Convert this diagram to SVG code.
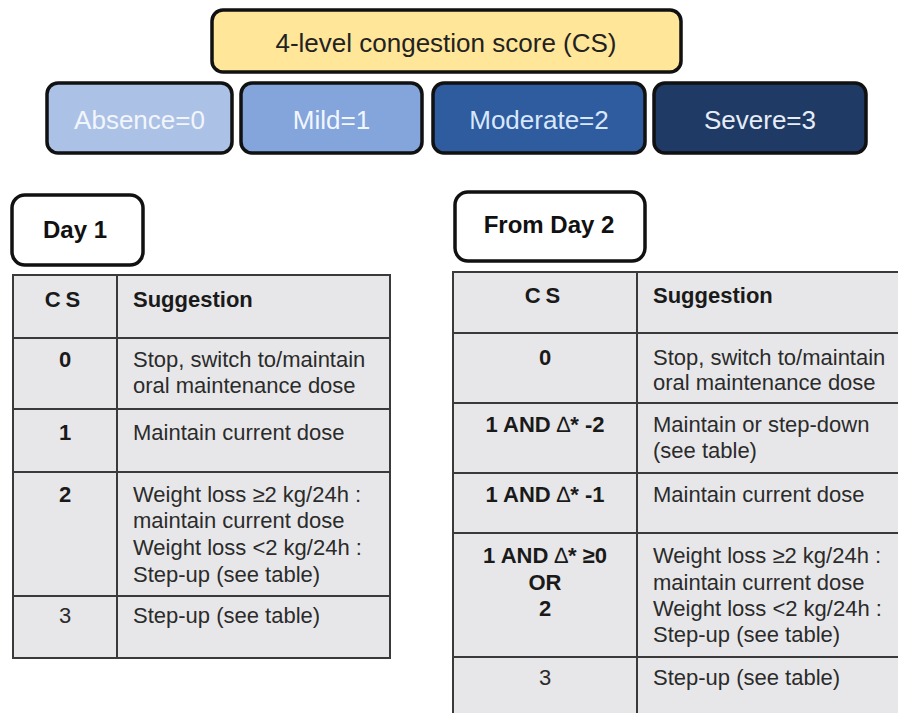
<svg xmlns="http://www.w3.org/2000/svg" width="898" height="713" viewBox="0 0 898 713">
<style>
.box{stroke:#111;stroke-width:3.5}
.t{font-family:"Liberation Sans",Arial,sans-serif}
.lvl{font-family:"Liberation Sans",Arial,sans-serif;font-size:26px;text-anchor:middle}
.tab{fill:#E7E7E9}
.ln{stroke:#3a3a3a;stroke-width:2;fill:none}
.b{font-family:"Liberation Sans",Arial,sans-serif;font-size:22px;font-weight:bold;fill:#1a1a1a}
.r{font-family:"Liberation Sans",Arial,sans-serif;font-size:22px;fill:#2b2b2b}
.c{text-anchor:middle}
.lab{font-family:"Liberation Sans",Arial,sans-serif;font-size:24px;font-weight:bold;fill:#111;text-anchor:middle}
</style>
<rect width="898" height="713" fill="#fff"/>
<g id="title">
<rect class="box" x="212" y="10" width="469" height="62" rx="11" fill="#FFE699"/>
<text class="lvl" x="446" y="52" fill="#222">4-level congestion score (CS)</text>
</g>
<g id="absence">
<rect class="box" x="47" y="83" width="185" height="70" rx="11" fill="#ABC2E6"/>
<text class="lvl" x="139.5" y="129" fill="#F2F5FB">Absence=0</text>
</g>
<g id="mild">
<rect class="box" x="241" y="83" width="181" height="70" rx="11" fill="#83A5DB"/>
<text class="lvl" x="331.5" y="129" fill="#F2F6FF">Mild=1</text>
</g>
<g id="moderate">
<rect class="box" x="433" y="83" width="212" height="70" rx="11" fill="#2F5B9F"/>
<text class="lvl" x="539" y="129" fill="#D8E8FB">Moderate=2</text>
</g>
<g id="severe">
<rect class="box" x="654" y="83" width="212" height="70" rx="11" fill="#203A66"/>
<text class="lvl" x="760" y="129" fill="#E6EDF6">Severe=3</text>
</g>
<g id="day1-label">
<rect class="box" x="12" y="195" width="131" height="70" rx="13" fill="#fff"/>
<text class="lab" x="75" y="238">Day 1</text>
</g>
<g id="day2-label">
<rect class="box" x="455" y="192" width="190" height="69" rx="13" fill="#fff"/>
<text class="lab" x="549" y="233">From Day 2</text>
</g>
<g id="day1-table">
<rect class="tab" x="13" y="275" width="377" height="383"/>
<path class="ln" d="M13 275H390V658H13Z M117 275V658 M13 338H390 M13 409H390 M13 472H390 M13 596H390"/>
<text class="b c" x="65" y="307" letter-spacing="5">CS</text>
<text class="b" x="133" y="307">Suggestion</text>
<text class="b c" x="65" y="367">0</text>
<text class="r" x="133" y="367">Stop, switch to/maintain</text>
<text class="r" x="133" y="393">oral maintenance dose</text>
<text class="b c" x="65" y="440">1</text>
<text class="r" x="133" y="440">Maintain current dose</text>
<text class="b c" x="65" y="502">2</text>
<text class="r" x="133" y="502">Weight loss ≥2 kg/24h :</text>
<text class="r" x="133" y="528">maintain current dose</text>
<text class="r" x="133" y="555">Weight loss &lt;2 kg/24h :</text>
<text class="r" x="133" y="582">Step-up (see table)</text>
<text class="r c" x="65" y="623">3</text>
<text class="r" x="133" y="623">Step-up (see table)</text>
</g>
<g id="day2-table">
<rect class="tab" x="453" y="272" width="450" height="450"/>
<path class="ln" d="M453 720V272H900 M637 272V720 M453 333H900 M453 403H900 M453 473H900 M453 533H900 M453 657H900"/>
<text class="b c" x="545" y="303" letter-spacing="5">CS</text>
<text class="b" x="653" y="303">Suggestion</text>
<text class="b c" x="545" y="365">0</text>
<text class="r" x="653" y="365">Stop, switch to/maintain</text>
<text class="r" x="653" y="390">oral maintenance dose</text>
<text class="b c" x="545" y="432">1 AND <tspan font-weight="normal">∆</tspan>* -2</text>
<text class="r" x="653" y="432">Maintain or step-down</text>
<text class="r" x="653" y="458">(see table)</text>
<text class="b c" x="545" y="502">1 AND <tspan font-weight="normal">∆</tspan>* -1</text>
<text class="r" x="653" y="502">Maintain current dose</text>
<text class="b c" x="545" y="563">1 AND <tspan font-weight="normal">∆</tspan>* ≥0</text>
<text class="b c" x="545" y="590">OR</text>
<text class="b c" x="545" y="616">2</text>
<text class="r" x="653" y="563">Weight loss ≥2 kg/24h :</text>
<text class="r" x="653" y="590">maintain current dose</text>
<text class="r" x="653" y="616">Weight loss &lt;2 kg/24h :</text>
<text class="r" x="653" y="642">Step-up (see table)</text>
<text class="r c" x="545" y="685">3</text>
<text class="r" x="653" y="685">Step-up (see table)</text>
</g>
<g id="connectors"/>
</svg>
